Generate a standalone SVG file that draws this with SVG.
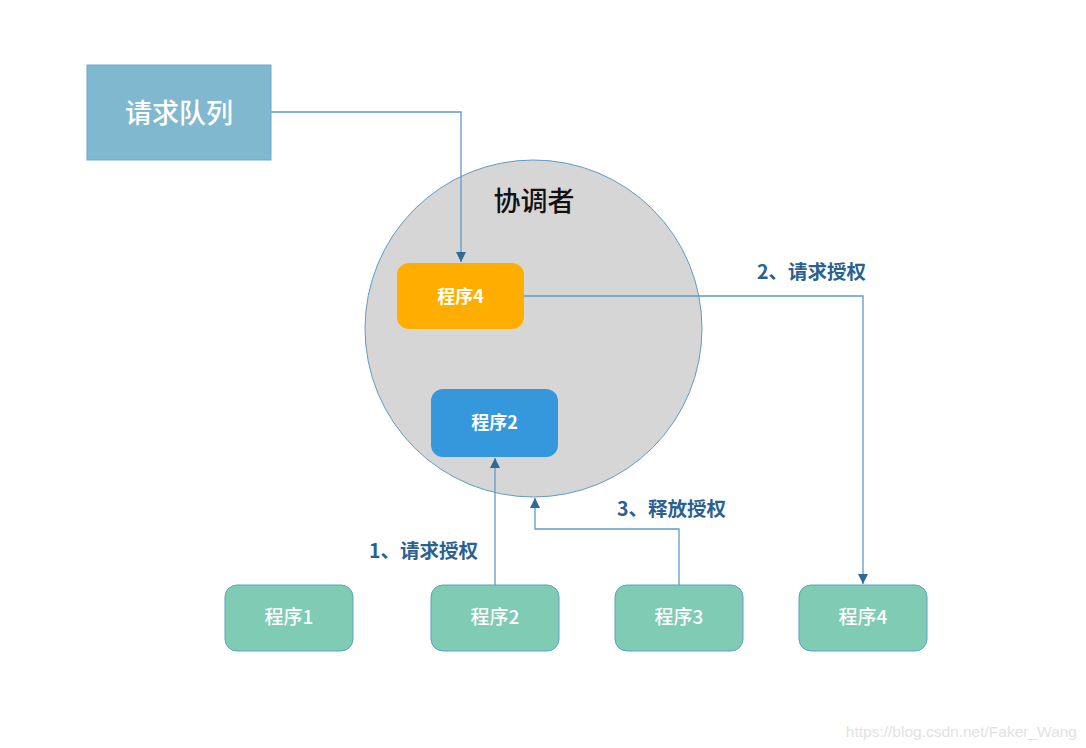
<svg xmlns="http://www.w3.org/2000/svg" width="1086" height="748" viewBox="0 0 1086 748">
<style>
.lbl{font-family:"Noto Sans CJK SC","Noto Sans",sans-serif;font-weight:bold;font-size:19.5px;fill:#2a6190}
.wt{font-family:"Noto Sans CJK SC","Noto Sans",sans-serif;fill:#ffffff;text-anchor:middle}
.b{font-weight:bold}
.n{font-weight:500}
.g{fill:#7fcbb4;stroke:#5aa3c4;stroke-width:1}
.ln{fill:none;stroke:#5e9bc6;stroke-width:1.3}
</style>
<defs>
<marker id="ah" markerWidth="12" markerHeight="12" refX="10" refY="6" orient="auto" markerUnits="userSpaceOnUse">
<path d="M0,1 L10,6 L0,11 Z" fill="#2d6a99"/>
</marker>
</defs>
<rect width="1086" height="748" fill="#ffffff"/>
<g id="queue">
<rect x="87" y="65" width="184" height="95" fill="#80b8cf" stroke="#6aa5d6" stroke-width="1"/>
<text x="179" y="123" class="wt n" font-size="27">请求队列</text>
</g>
<g id="coordinator">
<circle cx="533.5" cy="328.5" r="168.5" fill="#d6d6d6" stroke="#5e9bc6" stroke-width="1"/>
<text x="534" y="211" font-family="Noto Sans CJK SC,Noto Sans,sans-serif" font-size="27" font-weight="500" fill="#111" text-anchor="middle">协调者</text>
</g>
<g id="p4-in">
<rect x="397" y="263" width="127" height="66" rx="12" fill="#ffae00"/>
<text x="460.5" y="303" class="wt b" font-size="18">程序4</text>
</g>
<g id="p2-in">
<rect x="431" y="389" width="127" height="68" rx="12" fill="#3598dc"/>
<text x="494.5" y="429" class="wt b" font-size="18">程序2</text>
</g>
<g id="p1">
<rect class="g" x="225" y="585" width="128" height="66" rx="12"/>
<text x="289" y="624" class="wt n" font-size="19">程序1</text>
</g>
<g id="p2">
<rect class="g" x="431" y="585" width="128" height="66" rx="12"/>
<text x="495" y="624" class="wt n" font-size="19">程序2</text>
</g>
<g id="p3">
<rect class="g" x="615" y="585" width="128" height="66" rx="12"/>
<text x="679" y="624" class="wt n" font-size="19">程序3</text>
</g>
<g id="p4">
<rect class="g" x="799" y="585" width="128" height="66" rx="12"/>
<text x="863" y="624" class="wt n" font-size="19">程序4</text>
</g>
<g id="connectors">
<path class="ln" d="M271,112 H461 V262" marker-end="url(#ah)"/>
<path class="ln" d="M524,296 H863 V584" marker-end="url(#ah)"/>
<path class="ln" d="M495,585 V458" marker-end="url(#ah)"/>
<path class="ln" d="M679,585 V529 H535 V498" marker-end="url(#ah)"/>
<text x="757" y="279" class="lbl">2、请求授权</text>
<text x="617" y="516" class="lbl">3、释放授权</text>
<text x="369" y="558" class="lbl">1、请求授权</text>
</g>
<text x="1077" y="737" font-family="Liberation Sans,sans-serif" font-size="15.5" fill="#e2e2e2" text-anchor="end">https://blog.csdn.net/Faker_Wang</text>
</svg>
